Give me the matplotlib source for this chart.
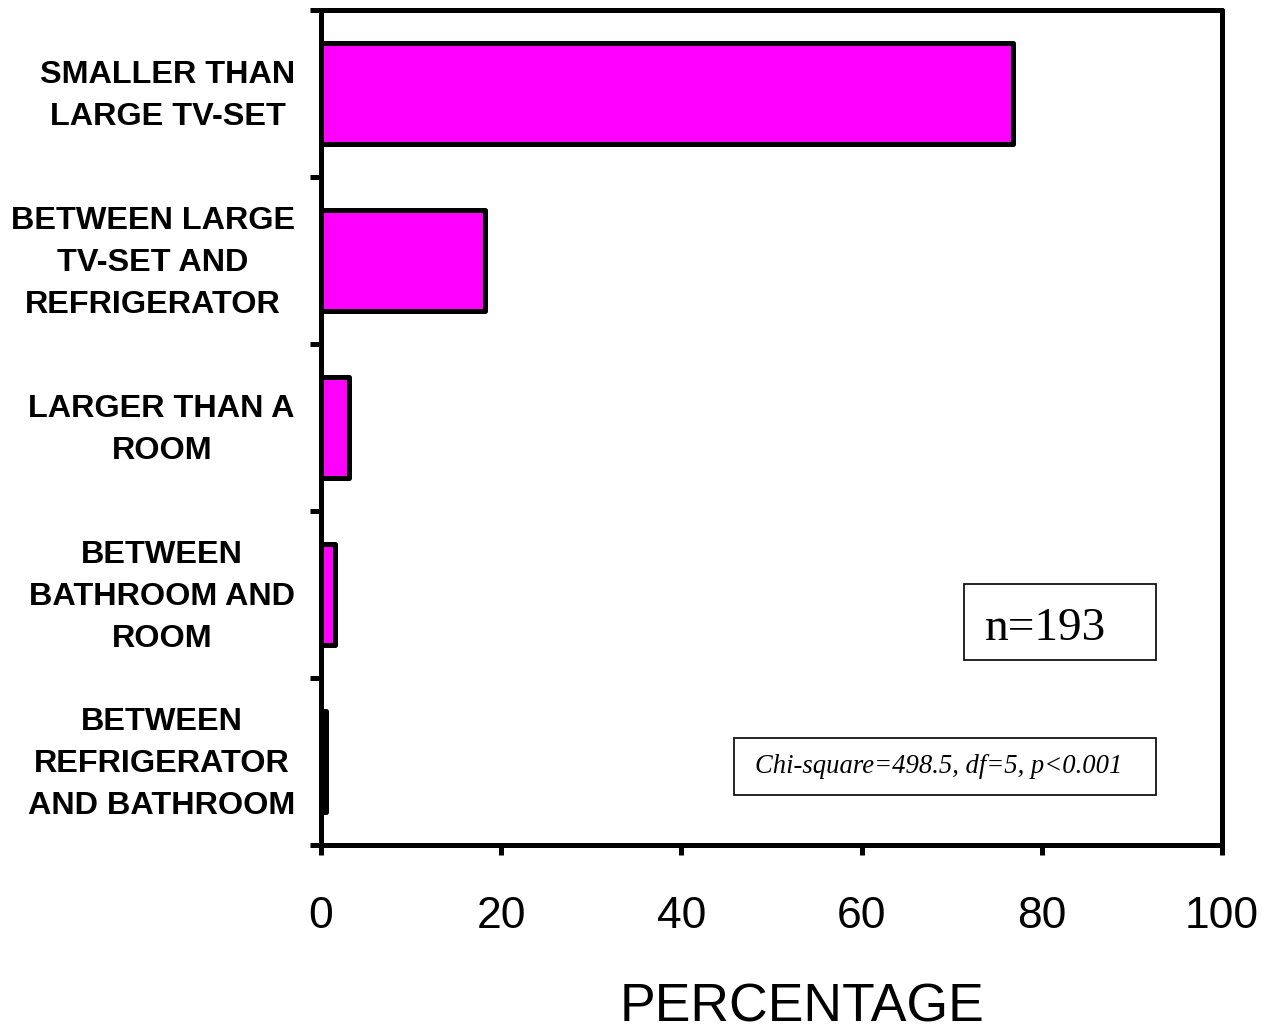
import matplotlib
matplotlib.use("Agg")
import matplotlib.pyplot as plt
from matplotlib.patches import Rectangle
from matplotlib.transforms import blended_transform_factory, ScaledTranslation

categories = ["SMALLER THAN\nLARGE TV-SET",
              "BETWEEN LARGE\nTV-SET AND\nREFRIGERATOR",
              "LARGER THAN A\nROOM",
              "BETWEEN\nBATHROOM AND\nROOM",
              "BETWEEN\nREFRIGERATOR\nAND BATHROOM"]
values = [76.8, 18.2, 3.1, 1.6, 0.5]
xticks = [0, 20, 40, 60, 80, 100]

W, H = 1276, 1033
fig = plt.figure(figsize=(W/100, H/100), dpi=100)
ax = fig.add_axes([321/W, 1-845/H, (1222-321)/W, (845-10)/H])

n = len(categories)
pos = [n - i - 0.5 for i in range(n)]
ax.barh(pos, values, height=0.6, color="#ff00ff", edgecolor="black",
        linewidth=3.6, joinstyle="round", zorder=3)

ax.set_xlim(0, 100)
ax.set_ylim(0, n)
ax.set_xticks(xticks)
ax.set_xticklabels([str(v) for v in xticks], fontsize=32, family="Liberation Sans")
ax.set_yticks(range(n + 1))
ax.set_yticklabels([])
ax.tick_params(axis="y", which="major", length=8, width=3.6, direction="out")
ax.tick_params(axis="x", which="major", length=7, width=3.6, direction="out", pad=30)
for s in ax.spines.values():
    s.set_linewidth(3.6)
    s.set_capstyle("round")

# category labels
trans = blended_transform_factory(ax.transAxes, ax.transData) + \
    ScaledTranslation(-26/100, -2.5/100, fig.dpi_scale_trans)
for p, lab in zip(pos, categories):
    ax.text(0, p, lab, transform=trans, ha="right", va="center",
            multialignment="center", fontsize=23.3, fontweight="bold",
            family="Liberation Sans", linespacing=1.52)

fig.text(802/W, 1-1021/H, "PERCENTAGE", fontsize=38.5, family="Liberation Sans",
         ha="center", va="baseline")

# annotation boxes
def px2ax(x, y):
    return ((x - 321) / (1222 - 321), (845 - y) / (845 - 10))

x0, y0 = px2ax(964, 660)
x1, y1 = px2ax(1156, 584)
ax.add_patch(Rectangle((x0, y0), x1 - x0, y1 - y0, transform=ax.transAxes,
                       fill=False, edgecolor="black", linewidth=1.2, zorder=4))
tx, ty = px2ax(985, 640)
ax.text(tx, ty, "n=193", transform=ax.transAxes, fontsize=34,
        family="Liberation Serif", ha="left", va="baseline", zorder=5)

x0, y0 = px2ax(734, 795)
x1, y1 = px2ax(1156, 738)
ax.add_patch(Rectangle((x0, y0), x1 - x0, y1 - y0, transform=ax.transAxes,
                       fill=False, edgecolor="black", linewidth=1.2, zorder=4))
tx, ty = px2ax(755, 773)
ax.text(tx, ty, "Chi-square=498.5, df=5, p<0.001", transform=ax.transAxes,
        fontsize=19.15, style="italic", family="Liberation Serif",
        ha="left", va="baseline", zorder=5)

fig.savefig("out.png", dpi=100)
